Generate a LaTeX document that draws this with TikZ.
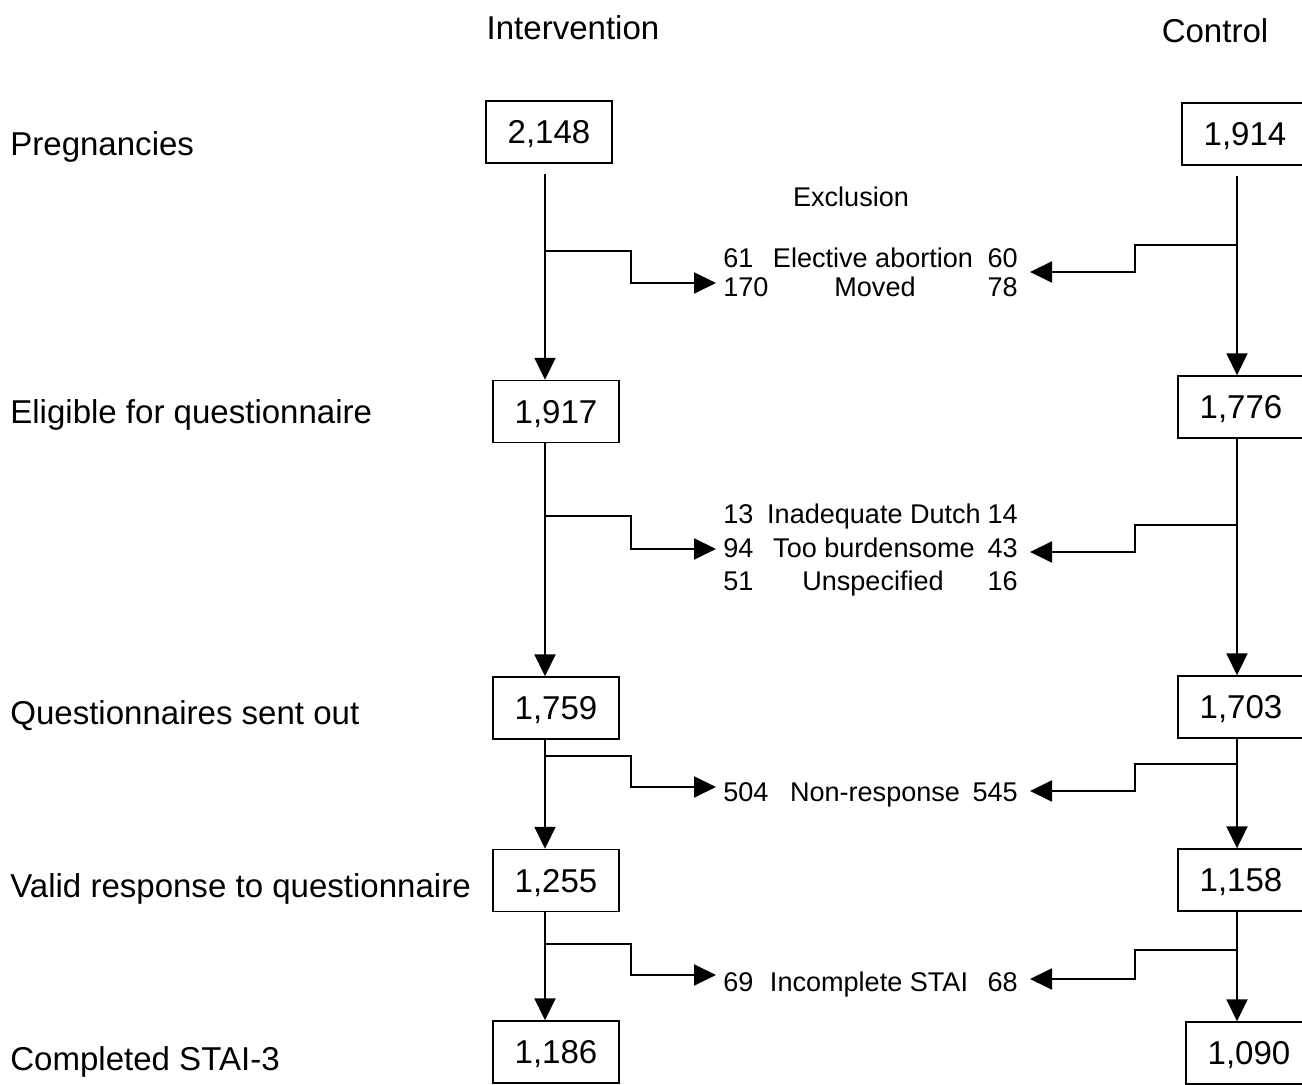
\documentclass[tikz,border=0pt]{standalone}
\usepackage{fontspec}
\setmainfont{Liberation Sans}
\usetikzlibrary{arrows.meta}

\begin{document}
\begin{tikzpicture}[line cap=butt]
  % Styles and fonts
  \tikzset{
    countbox/.style={draw, line width=0.8pt, minimum width=2.52cm, minimum height=1.24cm,
      inner sep=0pt, text height=13.5pt, text depth=0pt, font=\fontsize{18.8}{22}\selectfont},
    stage/.style={anchor=base west, inner sep=0pt, font=\fontsize{18.8}{22}\selectfont},
    arm/.style={anchor=base, inner sep=0pt, font=\fontsize{18.8}{22}\selectfont},
    flow/.style={-{Triangle[length=0.44cm,width=0.42cm]}, line width=1.1pt},
    exnum/.style={inner sep=0pt, font=\fontsize{15.4}{18}\selectfont},
    extext/.style={anchor=base, inner sep=0pt, font=\fontsize{15.4}{18}\selectfont}
  }

  \clip (0,0) rectangle (26.04,21.68);

  % Column headers
  \node[arm] (hint) at (11.46,20.88) {Intervention};
  \node[arm] (hcon) at (24.3,20.82) {Control};

  % Stages
  \node[stage] (spreg) at (0.2,18.56) {Pregnancies};
  \node[stage] (selig) at (0.2,13.2) {Eligible for questionnaire};
  \node[stage] (ssent) at (0.2,7.18) {Questionnaires sent out};
  \node[stage] (svalid) at (0.2,3.72) {Valid response to questionnaire};
  \node[stage] (sstai) at (0.2,0.27) {Completed STAI-3};

  % Intervention counts
  \node[countbox] (i1) at (10.98,19.04) {2,148};
  \node[countbox] (i2) at (11.12,13.45) {1,917};
  \node[countbox] (i3) at (11.12,7.52) {1,759};
  \node[countbox] (i4) at (11.12,4.07) {1,255};
  \node[countbox] (i5) at (11.12,0.64) {1,186};

  % Control counts
  \node[countbox] (c1) at (24.9,19.0) {1,914};
  \node[countbox] (c2) at (24.82,13.54) {1,776};
  \node[countbox] (c3) at (24.82,7.54) {1,703};
  \node[countbox] (c4) at (24.82,4.08) {1,158};
  \node[countbox] (c5) at (24.98,0.62) {1,090};

  % Main flow lines
  \coordinate (lx) at (10.9,0);
  \coordinate (rx) at (24.74,0);
  \draw[flow, shorten <=0.2cm] (i1.south -| lx) -- (i2.north -| lx);
  \draw[flow] (i2.south -| lx) -- (i3.north -| lx);
  \draw[flow] (i3.south -| lx) -- (i4.north -| lx);
  \draw[flow] (i4.south -| lx) -- (i5.north -| lx);
  \draw[flow, shorten <=0.2cm] (c1.south -| rx) -- (c2.north -| rx);
  \draw[flow] (c2.south -| rx) -- (c3.north -| rx);
  \draw[flow] (c3.south -| rx) -- (c4.north -| rx);
  \draw[flow] (c4.south -| rx) -- (c5.north -| rx);

  % Exclusions
  \node[extext] (exhead) at (17.02,17.54) {Exclusion};

  \node[exnum, anchor=base west] (ia1) at (14.46,16.32) {61};
  \node[extext] (ea1) at (17.46,16.32) {Elective abortion};
  \node[exnum, anchor=base east] (ca1) at (20.36,16.32) {60};
  \node[exnum, anchor=base west] (ib1) at (14.46,15.74) {170};
  \node[extext] (eb1) at (17.5,15.74) {Moved};
  \node[exnum, anchor=base east] (cb1) at (20.36,15.74) {78};

  \node[exnum, anchor=base west] (ia2) at (14.46,11.2) {13};
  \node[extext] (ea2) at (17.48,11.2) {Inadequate Dutch};
  \node[exnum, anchor=base east] (ca2) at (20.36,11.2) {14};
  \node[exnum, anchor=base west] (ib2) at (14.46,10.52) {94};
  \node[extext] (eb2) at (17.48,10.52) {Too burdensome};
  \node[exnum, anchor=base east] (cb2) at (20.36,10.52) {43};
  \node[exnum, anchor=base west] (ic2) at (14.46,9.86) {51};
  \node[extext] (ec2) at (17.46,9.86) {Unspecified};
  \node[exnum, anchor=base east] (cc2) at (20.36,9.86) {16};

  \node[exnum, anchor=base west] (ia3) at (14.46,5.64) {504};
  \node[extext] (ea3) at (17.5,5.64) {Non-response};
  \node[exnum, anchor=base east] (ca3) at (20.36,5.64) {545};

  \node[exnum, anchor=base west] (ia4) at (14.46,1.84) {69};
  \node[extext] (ea4) at (17.38,1.84) {Incomplete STAI};
  \node[exnum, anchor=base east] (ca4) at (20.36,1.84) {68};

  % Branches, intervention side
  \coordinate (ls1) at (10.9,16.66);  \coordinate (lt1) at (14.32,16.02);
  \coordinate (ls2) at (10.9,11.36);  \coordinate (lt2) at (14.32,10.70);
  \coordinate (ls3) at (10.9,6.56);   \coordinate (lt3) at (14.32,5.94);
  \coordinate (ls4) at (10.9,2.80);   \coordinate (lt4) at (14.32,2.18);
  \draw[flow] (ls1) -- ++(1.72,0) |- (lt1);
  \draw[flow] (ls2) -- ++(1.72,0) |- (lt2);
  \draw[flow] (ls3) -- ++(1.72,0) |- (lt3);
  \draw[flow] (ls4) -- ++(1.72,0) |- (lt4);

  % Branches, control side
  \coordinate (rs1) at (24.74,16.78); \coordinate (rt1) at (20.6,16.24);
  \coordinate (rs2) at (24.74,11.18); \coordinate (rt2) at (20.6,10.64);
  \coordinate (rs3) at (24.74,6.40);  \coordinate (rt3) at (20.6,5.86);
  \coordinate (rs4) at (24.74,2.68);  \coordinate (rt4) at (20.6,2.10);
  \draw[flow] (rs1) -- ++(-2.04,0) |- (rt1);
  \draw[flow] (rs2) -- ++(-2.04,0) |- (rt2);
  \draw[flow] (rs3) -- ++(-2.04,0) |- (rt3);
  \draw[flow] (rs4) -- ++(-2.04,0) |- (rt4);
\end{tikzpicture}
\end{document}
